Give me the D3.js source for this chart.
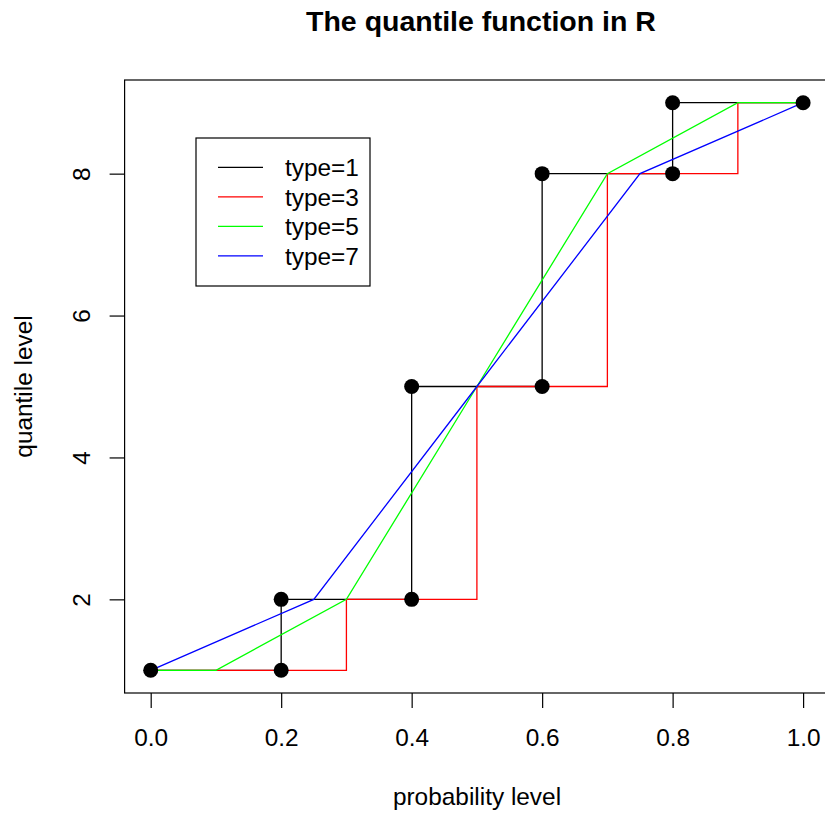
<!DOCTYPE html>
<html><head><meta charset="utf-8">
<script src="https://cdn.jsdelivr.net/npm/d3@7"></script>
<style>body{margin:0;background:#fff}svg{display:block;font-family:"Liberation Sans",Arial,sans-serif}</style>
</head><body>
<svg id="c" width="825" height="814"></svg>
<script>
// data: sample x = c(1,2,5,8,9)
const stepX = [0, 0.2, 0.2, 0.4, 0.4, 0.6, 0.6, 0.8, 0.8, 1.0];
const stepY = [1, 1, 2, 2, 5, 5, 8, 8, 9, 9];
const type3X = [0, 0.3, 0.3, 0.5, 0.5, 0.7, 0.7, 0.9, 0.9, 1.0];
const type3Y = [1, 1, 2, 2, 5, 5, 8, 8, 9, 9];
const type5X = [0, 0.1, 0.3, 0.5, 0.7, 0.9, 1.0];
const type5Y = [1, 1, 2, 5, 8, 9, 9];
const type7X = [0, 0.25, 0.5, 0.75, 1.0];
const type7Y = [1, 2, 5, 8, 9];
const xTicks = [0, 0.2, 0.4, 0.6, 0.8, 1.0];
const yTicks = [2, 4, 6, 8];
const legendLabels = ["type=1", "type=3", "type=5", "type=7"];
const legendColors = ["#000000", "#ff0000", "#00ff00", "#0000ff"];

const svg = d3.select("#c");
const xs = d3.scaleLinear().domain([-0.04, 1.04]).range([124.6, 829.2]);
const ys = d3.scaleLinear().domain([0.68, 9.32]).range([693.0, 80.0]);
const FS = 24.4;

// box
svg.append("rect").attr("x", xs(-0.04)).attr("y", ys(9.32))
  .attr("width", xs(1.04) - xs(-0.04)).attr("height", ys(0.68) - ys(9.32))
  .attr("fill", "none").attr("stroke", "#000").attr("stroke-width", 1.2);

// x axis
const xAxis = d3.axisBottom(xs).tickValues(xTicks).tickSize(15).tickPadding(8)
  .tickFormat(d3.format(".1f"));
const gx = svg.append("g").attr("transform", `translate(0,${ys(0.68)})`).call(xAxis);
gx.select(".domain").remove();
gx.selectAll("line").attr("stroke", "#000").attr("stroke-width", 1.2);
gx.selectAll("text").attr("font-size", FS).attr("fill", "#000")
  .attr("font-family", '"Liberation Sans",Arial,sans-serif').attr("dy", null).attr("y", 53);

// y axis
const yAxis = d3.axisLeft(ys).tickValues(yTicks).tickSize(15).tickFormat(d3.format("d"));
const gy = svg.append("g").attr("transform", `translate(${xs(-0.04)},0)`).call(yAxis);
gy.select(".domain").remove();
gy.selectAll("line").attr("stroke", "#000").attr("stroke-width", 1.2);
gy.selectAll("text").attr("font-size", FS).attr("fill", "#000")
  .attr("font-family", '"Liberation Sans",Arial,sans-serif')
  .attr("x", null).attr("dy", null).attr("text-anchor", "middle")
  .attr("transform", "translate(-35,0) rotate(-90)");

// titles
svg.append("text").attr("x", 481).attr("y", 31).attr("text-anchor", "middle")
  .attr("font-size", 28.5).attr("font-weight", "bold").text("The quantile function in R");
svg.append("text").attr("x", 477).attr("y", 805).attr("text-anchor", "middle")
  .attr("font-size", FS).text("probability level");
svg.append("text").attr("transform", `translate(32,${(ys(0.68)+ys(9.32))/2}) rotate(-90)`)
  .attr("text-anchor", "middle").attr("font-size", FS).text("quantile level");

// lines
const series = [
  [stepX, stepY, legendColors[0]],
  [type3X, type3Y, legendColors[1]],
  [type5X, type5Y, legendColors[2]],
  [type7X, type7Y, legendColors[3]]
];
const line = d3.line().x(d => xs(d[0])).y(d => ys(d[1]));
series.forEach(([xv, yv, col]) => {
  svg.append("path").datum(xv.map((v, i) => [v, yv[i]]))
    .attr("d", line).attr("fill", "none").attr("stroke", col).attr("stroke-width", 1.3);
});

// points
svg.selectAll("circle.pt").data(stepX.map((v, i) => [v, stepY[i]])).enter()
  .append("circle").attr("class", "pt").attr("cx", d => xs(d[0])).attr("cy", d => ys(d[1]))
  .attr("r", 7.5).attr("fill", "#000");

// legend
const lg = svg.append("g");
lg.append("rect").attr("x", 196).attr("y", 138).attr("width", 174).attr("height", 148)
  .attr("fill", "#fff").attr("stroke", "#000").attr("stroke-width", 1.2);
legendLabels.forEach((lab, i) => {
  const yy = 167.3 + i * 29.5;
  lg.append("line").attr("x1", 218).attr("x2", 263).attr("y1", yy).attr("y2", yy)
    .attr("stroke", legendColors[i]).attr("stroke-width", 1.3);
  lg.append("text").attr("x", 285).attr("y", yy + 9).attr("font-size", FS).text(lab);
});
</script>
</body></html>
